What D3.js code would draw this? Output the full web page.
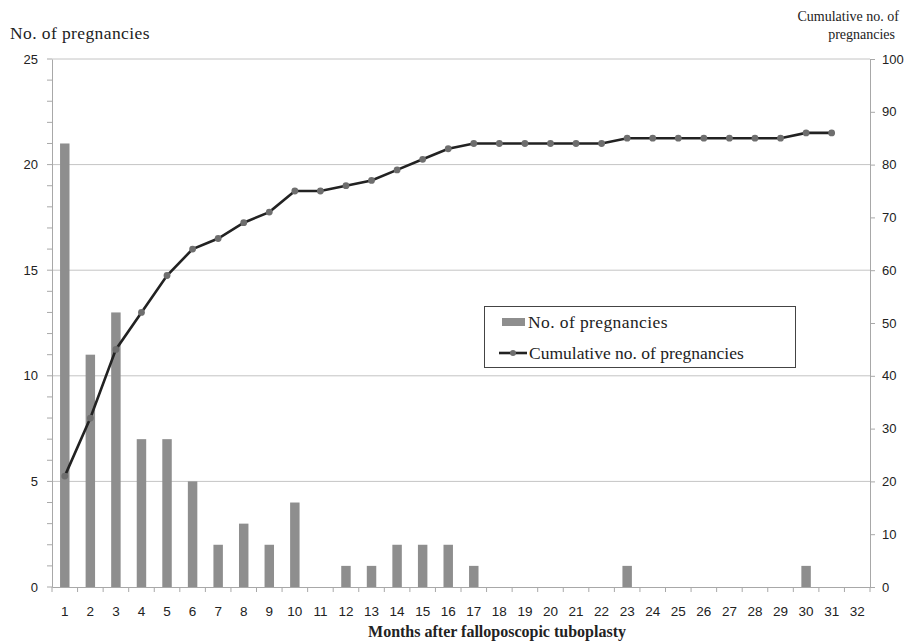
<!DOCTYPE html>
<html><head><meta charset="utf-8">
<script src="https://cdn.jsdelivr.net/npm/d3@7"></script>
<style>body{margin:0;background:#fff}</style>
</head><body>
<svg id="c" width="909" height="644"></svg>
<script>
const months = d3.range(1, 33).map(String);
const pregnancies = [21,11,13,7,7,5,2,3,2,4,0,1,1,2,2,2,1,0,0,0,0,0,1,0,0,0,0,0,0,1,0,0];
const cumulative = [21,32,45,52,59,64,66,69,71,75,75,76,77,79,81,83,84,84,84,84,84,84,85,85,85,85,85,85,85,86,86];
const leftTicks = [0,5,10,15,20,25];
const rightTicks = [0,10,20,30,40,50,60,70,80,90,100];

const svg = d3.select("#c");
const L = 52, R = 870, T = 59, B = 587;
const x = d3.scaleBand().domain(months).range([L, R]).paddingInner(0.63).paddingOuter(0.315);
const yL = d3.scaleLinear().domain([0, 25]).range([B, T]);
const yR = d3.scaleLinear().domain([0, 100]).range([B, T]);
const sans = "'Liberation Sans', Arial, sans-serif";
const serif = "'Liberation Serif', 'Times New Roman', serif";

// gridlines
svg.append("g").selectAll("line").data(leftTicks.filter(d => d > 0)).join("line")
  .attr("x1", L).attr("x2", R).attr("y1", d => yL(d)).attr("y2", d => yL(d))
  .attr("stroke", "#c4c4c4").attr("stroke-width", 1);

// bars
svg.append("g").selectAll("rect").data(pregnancies).join("rect")
  .attr("x", (d, i) => x(months[i])).attr("width", x.bandwidth())
  .attr("y", d => yL(d)).attr("height", d => B - yL(d))
  .attr("fill", "#8e8e8e");

// left axis
const gL = svg.append("g").attr("transform", `translate(${L},0)`)
  .call(d3.axisLeft(yL).tickValues(leftTicks).tickSize(0).tickPadding(14));
gL.select(".domain").attr("stroke", "#a8a8a8");
gL.selectAll("text").attr("font-family", sans).attr("font-size", 13).attr("fill", "#222");
gL.append("g").selectAll("line").data(d3.range(0, 26)).join("line")
  .attr("x1", -5).attr("x2", 0).attr("y1", d => yL(d)).attr("y2", d => yL(d))
  .attr("stroke", "#a8a8a8");

// right axis
const gR = svg.append("g").attr("transform", `translate(${R},0)`)
  .call(d3.axisRight(yR).tickValues(rightTicks).tickSize(5).tickPadding(7));
gR.select(".domain").attr("stroke", "#a8a8a8");
gR.selectAll(".tick line").attr("stroke", "#a8a8a8");
gR.selectAll("text").attr("font-family", sans).attr("font-size", 13).attr("fill", "#222");

// bottom axis
const gB = svg.append("g").attr("transform", `translate(0,${B})`)
  .call(d3.axisBottom(x).tickSize(0).tickPadding(19));
gB.select(".domain").attr("stroke", "#a8a8a8");
gB.selectAll("text").attr("font-family", sans).attr("font-size", 13.5).attr("fill", "#222");
gB.append("g").selectAll("line").data(months.concat(["end"])).join("line")
  .attr("x1", (d, i) => L + i * x.step()).attr("x2", (d, i) => L + i * x.step())
  .attr("y1", 0).attr("y2", 5).attr("stroke", "#a8a8a8");

// cumulative line
const cx = (d, i) => x(months[i]) + x.bandwidth() / 2;
svg.append("path").datum(cumulative)
  .attr("fill", "none").attr("stroke", "#222").attr("stroke-width", 2.6)
  .attr("d", d3.line().x(cx).y(d => yR(d)));
svg.append("g").selectAll("circle").data(cumulative).join("circle")
  .attr("cx", cx).attr("cy", d => yR(d)).attr("r", 3.4).attr("fill", "#6e6e6e");

// titles
svg.append("text").attr("x", 10).attr("y", 39).attr("font-family", serif)
  .attr("font-size", 17.5).attr("letter-spacing", 0.4).attr("fill", "#222").text("No. of pregnancies");
svg.append("text").attr("x", 899).attr("y", 21).attr("text-anchor", "end")
  .attr("font-family", serif).attr("font-size", 14).attr("fill", "#222").text("Cumulative no. of");
svg.append("text").attr("x", 895).attr("y", 39).attr("text-anchor", "end")
  .attr("font-family", serif).attr("font-size", 14).attr("fill", "#222").text("pregnancies");
svg.append("text").attr("x", 497).attr("y", 637).attr("text-anchor", "middle")
  .attr("font-family", serif).attr("font-size", 16).attr("font-weight", "bold").attr("fill", "#222")
  .text("Months after falloposcopic tuboplasty");

// legend
const lg = svg.append("g");
lg.append("rect").attr("x", 484.5).attr("y", 306.5).attr("width", 311).attr("height", 61)
  .attr("fill", "#fff").attr("stroke", "#444").attr("stroke-width", 1);
lg.append("rect").attr("x", 502).attr("y", 318).attr("width", 23).attr("height", 8).attr("fill", "#8e8e8e");
lg.append("text").attr("x", 528).attr("y", 328).attr("font-family", serif).attr("font-size", 17.5)
  .attr("letter-spacing", 0.4).attr("fill", "#222").text("No. of pregnancies");
lg.append("line").attr("x1", 499).attr("x2", 527).attr("y1", 353).attr("y2", 353)
  .attr("stroke", "#222").attr("stroke-width", 2.6);
lg.append("circle").attr("cx", 513).attr("cy", 353).attr("r", 3).attr("fill", "#6e6e6e");
lg.append("text").attr("x", 529).attr("y", 359).attr("font-family", serif).attr("font-size", 17.5)
  .attr("fill", "#222").text("Cumulative no. of pregnancies");
</script>
</body></html>
